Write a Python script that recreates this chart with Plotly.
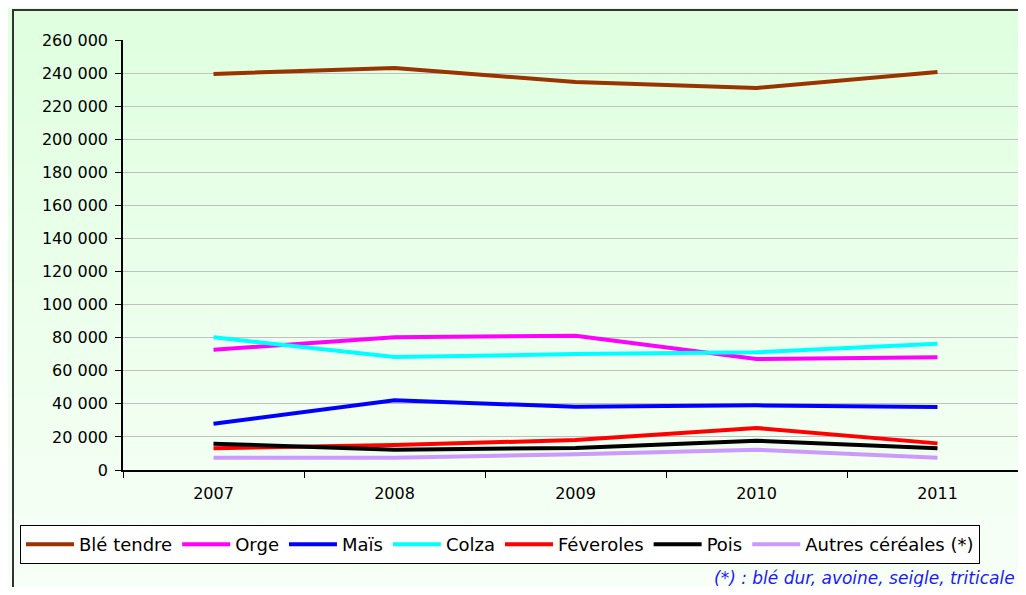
import plotly.graph_objects as go

years = ["2007", "2008", "2009", "2010", "2011"]
ble_tendre = [239500, 243000, 234600, 231000, 240700]
orge = [72700, 80200, 81200, 67100, 68100]
mais = [28000, 42100, 38300, 39100, 38100]
colza = [80200, 68300, 70100, 71200, 76400]
feveroles = [13100, 15100, 18100, 25400, 16100]
pois = [15900, 12300, 13300, 17700, 13100]
autres = [7450, 7450, 9500, 12300, 7450]

series = [
    ("Blé tendre", ble_tendre, "#993300"),
    ("Orge", orge, "#FF00FF"),
    ("Maïs", mais, "#0000FF"),
    ("Colza", colza, "#00FFFF"),
    ("Féveroles", feveroles, "#FF0000"),
    ("Pois", pois, "#000000"),
    ("Autres céréales (*)", autres, "#CC99FF"),
]

OFF = 8  # page body margin
W, H = 1026 - 2 * OFF, 595 - 2 * OFF
L, R, T = 123 - OFF, 0, 40 - OFF
B = H - (470 - OFF)
pw, ph = W - L - R, H - T - B
cat_w = 181.0  # reference pixels per category
x_hi = -0.5 + pw / cat_w

def px_x(px):
    # px in reference (page) pixels
    return (px - OFF - L) / pw

def px_y(py):
    return (H - B - (py - OFF)) / ph

fig = go.Figure()
for name, vals, col in series:
    fig.add_trace(go.Scatter(x=years, y=vals, name=name, mode="lines",
                             line=dict(color=col, width=4)))

shapes = []
n = 40
c0 = (223, 255, 223)
c1 = (247, 255, 247)
for i in range(n):
    t = i / (n - 1)
    col = "rgb(%d,%d,%d)" % tuple(round(a + (b - a) * t) for a, b in zip(c0, c1))
    y0 = OFF + i * H / n
    y1 = OFF + (i + 1) * H / n + 1
    shapes.append(dict(type="rect", xref="paper", yref="paper", layer="below",
                       x0=px_x(0), x1=px_x(1040), y0=px_y(y1), y1=px_y(y0),
                       line=dict(width=0), fillcolor=col))
# outer frame
shapes.append(dict(type="rect", xref="paper", yref="paper", layer="below",
                   x0=px_x(13), x1=px_x(1050), y0=px_y(620), y1=px_y(10),
                   line=dict(color="#333333", width=2), fillcolor="rgba(0,0,0,0)"))

fig.update_layout(
    width=W, height=H,
    margin=dict(l=L, r=R, t=T, b=B),
    paper_bgcolor="#F0FFF0",
    plot_bgcolor="rgba(0,0,0,0)",
    separators=", ",
    font=dict(family="DejaVu Sans", size=16, color="#000000"),
    shapes=shapes,
    showlegend=True,
    legend=dict(orientation="h", x=px_x(20), y=px_y(525), xanchor="left", yanchor="top",
                bgcolor="#FFFFFF", bordercolor="#000000", borderwidth=1,
                itemwidth=48, font=dict(size=18, family="DejaVu Sans"),
                itemclick=False),
    annotations=[dict(text="(*) : blé dur, avoine, seigle, triticale", xref="paper", yref="paper",
                      x=px_x(712), y=px_y(578), xanchor="left", yanchor="middle", showarrow=False,
                      font=dict(size=17, color="#1A1AFF", style="italic", family="DejaVu Sans"))],
)
fig.update_xaxes(type="category", range=[-0.5, x_hi], showline=True, linecolor="#000000", linewidth=1.5,
                 ticks="outside", tickson="boundaries", ticklen=6, tickcolor="#000000",
                 showgrid=False, zeroline=False, tickfont=dict(size=16), ticklabelstandoff=8)
fig.update_yaxes(range=[0, 260000], dtick=20000, tickformat=",.0f", showline=True,
                 linecolor="#000000", linewidth=1.5, ticks="outside", ticklen=6, tickcolor="#000000",
                 showgrid=True, gridcolor="#C0C0C0", gridwidth=1, zeroline=False,
                 tickfont=dict(size=16), ticklabelstandoff=4)

fig.write_html("out.html")
